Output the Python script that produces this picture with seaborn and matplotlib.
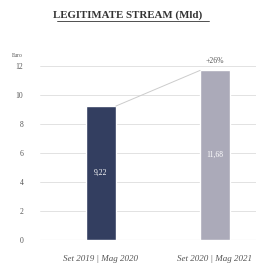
import matplotlib
matplotlib.use("Agg")
import matplotlib.pyplot as plt
import seaborn as sns
import pandas as pd

categories = ["Set 2019 | Mag 2020", "Set 2020 | Mag 2021"]
values = [9.22, 11.68]
value_labels = ["9,22", "11,68"]
growth_label = "+26%"
yticks = [0, 2, 4, 6, 8, 10, 12]
colors = ["#2b3a68", "#a9a7bb"]

sns.set_theme(style="white")
plt.rcParams['font.family'] = ['Liberation Serif', 'DejaVu Serif']

df = pd.DataFrame({"period": categories, "value": values})

fig = plt.figure(figsize=(2.56, 2.67), dpi=100)
ax = fig.add_axes([40/256, 27/267, 216/256, 175/267])

sns.barplot(data=df, x="period", y="value", hue="period", palette=colors,
            width=0.26, legend=False, ax=ax, zorder=3)

ax.set_ylim(0, 12.05)
ax.set_xlim(-0.535, 1.36)
ax.set_yticks(yticks)
ax.set_yticklabels([str(t) for t in yticks], fontsize=5.5, color="#555555")
ax.yaxis.grid(True, color="#dddddd", linewidth=0.6, zorder=0)
ax.axhline(0, color="#cccccc", linewidth=0.8, zorder=2)
for s in ax.spines.values():
    s.set_visible(False)
ax.tick_params(axis="y", length=0, pad=12)
ax.tick_params(axis="x", length=0, pad=11)
ax.set_xticks(range(len(categories)))
ax.set_xticklabels(categories, fontsize=6.5, color="#555555", style="italic")
ax.set_xlabel("")
ax.set_ylabel("")

# value labels
for i, (v, lab) in enumerate(zip(values, value_labels)):
    ax.text(i, v / 2, lab, ha="center", va="center", color="white", fontsize=5.5, zorder=5)

# connector line
bw = 0.26
ax.plot([0 + bw/2, 1 - bw/2], [values[0], values[1]], color="#cccccc", linewidth=0.7, zorder=4)
ax.text(1, values[1] + 0.4, growth_label, ha="center", va="bottom", fontsize=5.5, color="#555555")

fig.text(0.5, 1 - 15/267, "LEGITIMATE STREAM (Mld)", ha="center", va="center",
         fontsize=7.8, fontweight="bold", color="#333333")
fig.add_artist(plt.Line2D([57/256, 209/256], [1 - 21/267, 1 - 21/267], color="#333333", linewidth=0.6))
fig.text(17/256, 1 - 55/267, "Euro", ha="center", va="center", fontsize=4, color="#555555")

fig.savefig("out.png", dpi=100)
